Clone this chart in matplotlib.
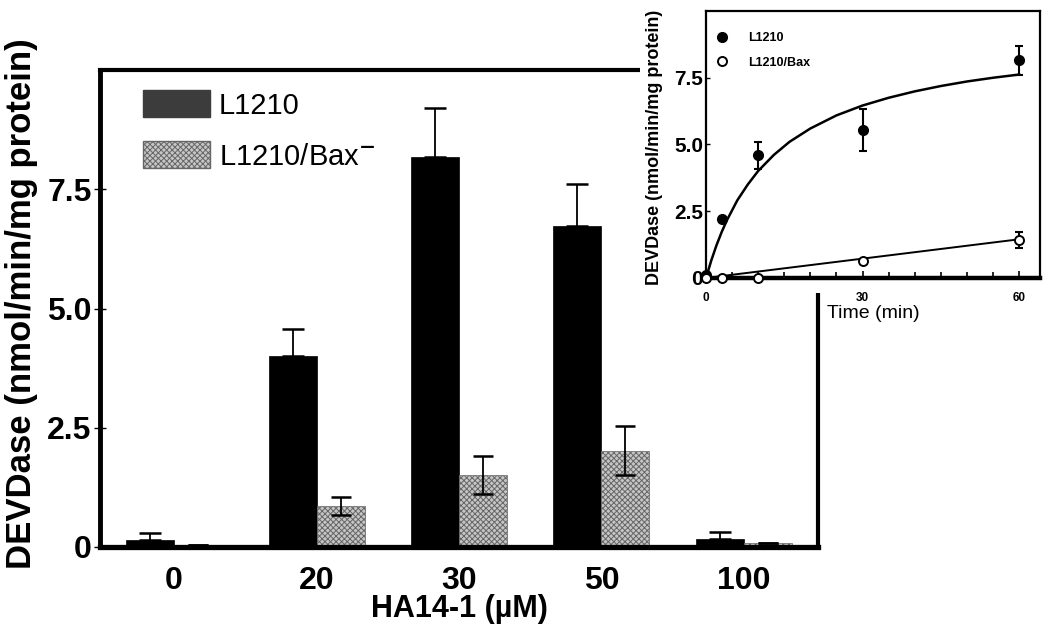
import numpy as np
import matplotlib
matplotlib.use('Agg')
import matplotlib.pyplot as plt
from matplotlib.patches import Patch, Rectangle
from matplotlib.ticker import MultipleLocator

plt.rcParams['font.family'] = ['Liberation Sans', 'DejaVu Sans']
plt.rcParams['mathtext.fontset'] = 'custom'
plt.rcParams['mathtext.rm'] = 'Liberation Sans'
plt.rcParams['hatch.linewidth'] = 0.7

# main bar chart data
doses = ['0', '20', '30', '50', '100']
l1210 = [0.15, 4.01, 8.17, 6.72, 0.16]
l1210_err = [0.15, 0.55, 1.03, 0.90, 0.16]
bax = [0.05, 0.86, 1.51, 2.02, 0.08]
bax_err = [0.0, 0.19, 0.40, 0.52, 0.0]

# inset time course data
time_pts = [0, 3, 10, 30, 60]
l1210_time = [0.1, 2.2, 4.6, 5.55, 8.15]
l1210_time_err = [0.1, 0.1, 0.5, 0.78, 0.55]
bax_time = [0.0, 0.0, 0.0, 0.65, 1.42]
bax_time_err = [0.05, 0.05, 0.05, 0.08, 0.3]

# fitted curves as drawn in the inset
fit_t = [0, 1, 2, 3, 4, 6, 8, 10, 13, 16, 20, 25, 30, 35, 40, 45, 50, 55, 60]
fit_l1210 = [0, 0.65, 1.22, 1.72, 2.16, 2.91, 3.50, 4.01, 4.61, 5.10, 5.60,
             6.09, 6.46, 6.75, 6.99, 7.19, 7.36, 7.50, 7.62]
fit_bax_t = [0, 60]
fit_bax = [0, 1.45]

HATCH_FACE = '#c6c6c6'
HATCH_EDGE = '#666666'

fig = plt.figure(figsize=(10.5, 6.27), dpi=100)
ax = fig.add_axes([100/1050, 1-547/627, 718/1050, 477/627])

x = np.arange(len(doses))
w = 0.337
ax.bar(x - w/2, l1210, w, color='black', edgecolor='black', linewidth=0.5, zorder=2)
ax.bar(x + w/2, bax, w, color=HATCH_FACE, edgecolor=HATCH_EDGE, linewidth=0.5,
       hatch='xxxxxx', zorder=2)
ax.errorbar(x - w/2, l1210, yerr=[np.zeros(len(l1210)), l1210_err], fmt='none',
            ecolor='black', elinewidth=1.3, capsize=8, capthick=1.8, zorder=3)
ax.errorbar(x + w/2, bax, yerr=bax_err, fmt='none', ecolor='black',
            elinewidth=1.3, capsize=7, capthick=1.8, zorder=3)

ax.set_xlim(-0.52, 4.52)
ax.set_ylim(0, 10)
ax.set_xticks(x)
ax.set_xticklabels(doses)
ax.set_yticks([0, 2.5, 5.0, 7.5])
ax.set_yticklabels(['0', '2.5', '5.0', '7.5'])
ax.tick_params(axis='x', length=0, pad=14, labelsize=23)
ax.tick_params(axis='y', direction='inout', length=8, width=1, pad=2, labelsize=23)
for lab in ax.get_xticklabels() + ax.get_yticklabels():
    lab.set_fontweight('bold')
for side, lw in [('left', 3.5), ('bottom', 3.8), ('top', 3.0), ('right', 3.0)]:
    ax.spines[side].set_linewidth(lw)
ax.set_xlabel('HA14-1 (µM)', fontsize=22, fontweight='bold', labelpad=-2)
ax.set_ylabel('DEVDase (nmol/min/mg protein)', fontsize=25, fontweight='bold')
ax.yaxis.set_label_coords(-0.087, 0.51)

handles = [Patch(facecolor='#3c3c3c', edgecolor='#3c3c3c'),
           Patch(facecolor=HATCH_FACE, edgecolor=HATCH_EDGE, hatch='xxxxxx')]
ax.legend(handles, ['L1210', r'L1210/Bax$^{\mathbf{-}}$'], loc='upper left',
          bbox_to_anchor=(0.06, 0.958), frameon=False, fontsize=21,
          handlelength=2.3, handleheight=1.05, handletextpad=0.3,
          labelspacing=0.75, borderaxespad=0, borderpad=0)

# white panel behind the inset
fig.patches.append(Rectangle((640/1050, 1-293/627), 410/1050, 293/627,
                             transform=fig.transFigure, facecolor='white',
                             edgecolor='none', zorder=1))

ins = fig.add_axes([706/1050, 1-278/627, 334/1050, 267/627])
ins.set_zorder(3)
ins.plot(fit_t, fit_l1210, color='black', lw=1.8, zorder=2)
ins.plot(fit_bax_t, fit_bax, color='black', lw=1.4, zorder=2)
ins.errorbar(time_pts, l1210_time, yerr=l1210_time_err, fmt='none',
             ecolor='black', elinewidth=1.5, capsize=3, capthick=1.5, zorder=3)
ins.errorbar(time_pts, bax_time, yerr=bax_time_err, fmt='none',
             ecolor='black', elinewidth=1.5, capsize=3, capthick=1.5, zorder=3)
h1, = ins.plot(time_pts, l1210_time, 'o', color='black', ms=7, clip_on=False, zorder=4)
h2, = ins.plot(time_pts, bax_time, 'o', mfc='white', mec='black', mew=1.4, ms=6.5,
               clip_on=False, zorder=4)
ins.set_xlim(0, 64)
ins.set_ylim(0, 10)
ins.set_xticks([0, 30, 60])
ins.xaxis.set_minor_locator(MultipleLocator(5))
ins.set_yticks([0, 2.5, 5.0, 7.5])
ins.set_yticklabels(['0', '2.5', '5.0', '7.5'])
ins.tick_params(axis='x', which='major', direction='in', length=5, width=1.2,
                labelsize=8.5, pad=10)
ins.tick_params(axis='x', which='minor', direction='in', length=4, width=1.2)
ins.tick_params(axis='y', direction='in', length=3, width=1, labelsize=15, pad=2)
for lab in ins.get_xticklabels() + ins.get_yticklabels():
    lab.set_fontweight('bold')
for side in ['left', 'top', 'right']:
    ins.spines[side].set_linewidth(1.6)
ins.spines['bottom'].set_linewidth(3.2)
ins.set_xlabel('Time (min)', fontsize=14, labelpad=1)
ins.set_ylabel('DEVDase (nmol/min/mg protein)', fontsize=13, fontweight='bold',
               labelpad=2)
ins.yaxis.set_label_coords(-0.13, 0.49)
ins.legend([h1, h2], ['L1210', 'L1210/Bax'], loc='upper left',
           bbox_to_anchor=(0.015, 0.94), frameon=False,
           prop={'size': 9, 'weight': 'bold'}, handletextpad=1.6,
           labelspacing=1.0, borderaxespad=0, handlelength=1.0)

fig.savefig('out.png', dpi=100)
